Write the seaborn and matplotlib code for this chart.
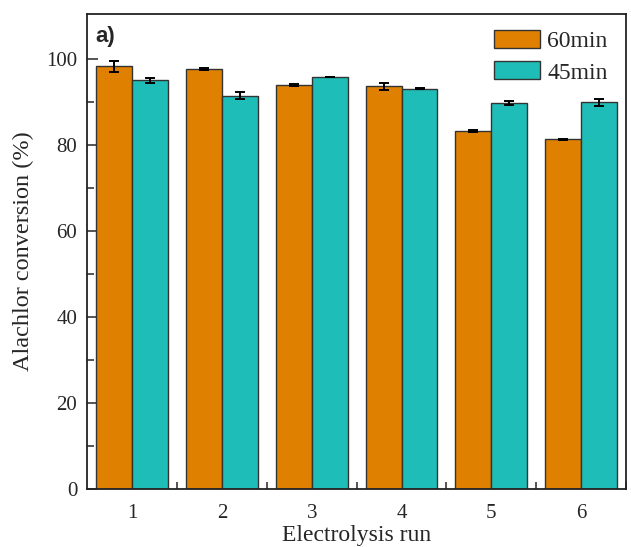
import matplotlib
matplotlib.use('Agg')
import matplotlib.pyplot as plt
import numpy as np
import pandas as pd
import seaborn as sns

# Conversion per electrolysis run
runs = ['1', '2', '3', '4', '5', '6']
conv_60 = [98.4, 97.7, 94.0, 93.7, 83.4, 81.4]
err_60 = [1.3, 0.2, 0.3, 0.9, 0.2, 0.1]
conv_45 = [95.1, 91.5, 95.9, 93.2, 89.9, 90.0]
err_45 = [0.5, 0.8, 0.1, 0.2, 0.5, 0.8]
series = ['60min', '45min']

df = pd.DataFrame({
    'run': runs * 2,
    'conv': conv_60 + conv_45,
    'time': [series[0]] * 6 + [series[1]] * 6,
})

sns.set_style('ticks')
plt.rcParams['font.family'] = ['Liberation Serif', 'DejaVu Serif']

fig = plt.figure(figsize=(6.31, 5.47), dpi=100)
ax = fig.add_axes([0.138, 0.106, 0.854, 0.868])

palette = {'60min': '#E08000', '45min': '#1FBDB8'}
sns.barplot(data=df, x='run', y='conv', hue='time', palette=palette,
            errorbar=None, width=0.8, saturation=1, edgecolor='#333333',
            linewidth=1.0, ax=ax)

# error bars on top of each bar
errs = [err_60, err_45]
for cont, e in zip(ax.containers, errs):
    xs = [b.get_x() + b.get_width() / 2 for b in cont]
    ys = [b.get_height() for b in cont]
    ax.errorbar(xs, ys, yerr=e, fmt='none', ecolor='black', elinewidth=1.4,
                capsize=3.5, capthick=1.4, zorder=5)

ax.set_ylim(0, 110.5)
ax.set_xlim(-0.504, 5.406)
ax.set_yticks([0, 20, 40, 60, 80, 100])
ax.set_yticklabels(['0', '20', '40', '60', '80', '100'])
ax.set_yticks([10, 30, 50, 70, 90], minor=True)
ax.set_xticks(np.arange(6) + 0.5, minor=True)
ax.tick_params(axis='both', which='major', direction='in', labelsize=15, length=8, width=1.1)
ax.tick_params(axis='both', which='minor', direction='in', length=5, width=1.1)
ax.tick_params(axis='y', which='major', pad=7)
ax.tick_params(axis='x', which='major', length=0, pad=11)
ax.set_xlabel('Electrolysis run', fontsize=17, labelpad=1)
ax.set_ylabel('Alachlor conversion (%)', fontsize=17.5, labelpad=9)

for s in ax.spines.values():
    s.set_linewidth(1.3)
    s.set_color('#222222')

ax.text(0.015, 0.975, 'a)', transform=ax.transAxes, fontsize=16, fontweight='bold',
        family=['Liberation Sans', 'DejaVu Sans'], va='top', ha='left')

leg = ax.legend(loc='upper left', frameon=False, fontsize=17, handlelength=1.95,
                handleheight=0.78, handletextpad=0.3, labelspacing=0.4,
                borderpad=0, borderaxespad=0, bbox_to_anchor=(0.755, 0.967))

fig.savefig('out.png', dpi=100)
